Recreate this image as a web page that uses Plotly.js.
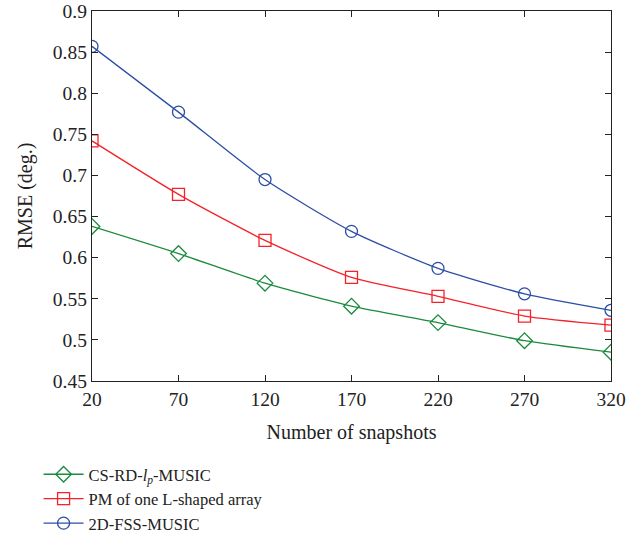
<!DOCTYPE html>
<html>
<head>
<meta charset="utf-8">
<script src="https://cdn.plot.ly/plotly-3.0.1.min.js"></script>
<style>html,body{margin:0;padding:0;background:#fff;}#chart{width:643px;height:546px;}</style>
</head>
<body>
<div id="chart"></div>
<script>
const snapshots = [20, 70, 120, 170, 220, 270, 320];
const csrdMusic = [0.638, 0.605, 0.569, 0.541, 0.521, 0.499, 0.485];
const pmLShaped = [0.742, 0.677, 0.621, 0.576, 0.553, 0.529, 0.518];
const fssMusic = [0.857, 0.777, 0.695, 0.632, 0.587, 0.556, 0.536];
const seriesNames = ['CS-RD-<i>l</i><sub><i>p</i></sub>-MUSIC', 'PM of one L-shaped array', '2D-FSS-MUSIC'];
const xTicks = [20, 70, 120, 170, 220, 270, 320];
const yTicks = [0.45, 0.5, 0.55, 0.6, 0.65, 0.7, 0.75, 0.8, 0.85, 0.9];

const font = 'Liberation Serif, Times New Roman, serif';
function tr(y, name, color, symbol) {
  return {
    x: snapshots, y: y, name: name, type: 'scatter', mode: 'lines+markers',
    line: {color: color, width: 1.3, shape: 'spline', smoothing: 0.6},
    marker: {symbol: symbol, size: 12, color: color, line: {color: color, width: 1.3}}
  };
}
const data = [
  tr(csrdMusic, seriesNames[0], '#1b8a3c', 'diamond-open'),
  tr(pmLShaped, seriesNames[1], '#f5222a', 'square-open'),
  tr(fssMusic, seriesNames[2], '#2d4ea6', 'circle-open')
];
const axisCommon = {
  showgrid: false, zeroline: false, showline: true, mirror: 'ticks',
  linecolor: '#222', linewidth: 1.2, ticks: 'inside', ticklen: 6, tickcolor: '#222',
  tickfont: {family: font, size: 19.5, color: '#222'}
};
const layout = {
  width: 643, height: 546,
  margin: {l: 92, r: 32, t: 11, b: 165},
  paper_bgcolor: '#fff', plot_bgcolor: '#fff',
  font: {family: font, color: '#222'},
  xaxis: Object.assign({}, axisCommon, {
    range: [20, 320], tickvals: xTicks, ticktext: xTicks.map(String),
    title: {text: 'Number of snapshots', font: {family: font, size: 20, color: '#222'}, standoff: 16}
  }),
  yaxis: Object.assign({}, axisCommon, {
    range: [0.45, 0.9], tickvals: yTicks, ticktext: yTicks.map(v => String(v)),
    title: {text: 'RMSE (deg.)', font: {family: font, size: 20, color: '#222'}, standoff: 14}
  }),
  showlegend: true,
  legend: {
    xref: 'container', yref: 'container',
    x: 0.06, y: 0.163, xanchor: 'left', yanchor: 'top', orientation: 'h',
    entrywidth: 1, entrywidthmode: 'fraction',
    font: {family: font, size: 16.5, color: '#222'}, bgcolor: 'rgba(0,0,0,0)',
    tracegroupgap: 0, itemwidth: 40
  }
};
Plotly.newPlot('chart', data, layout, {displayModeBar: false, staticPlot: true});
</script>
</body>
</html>
